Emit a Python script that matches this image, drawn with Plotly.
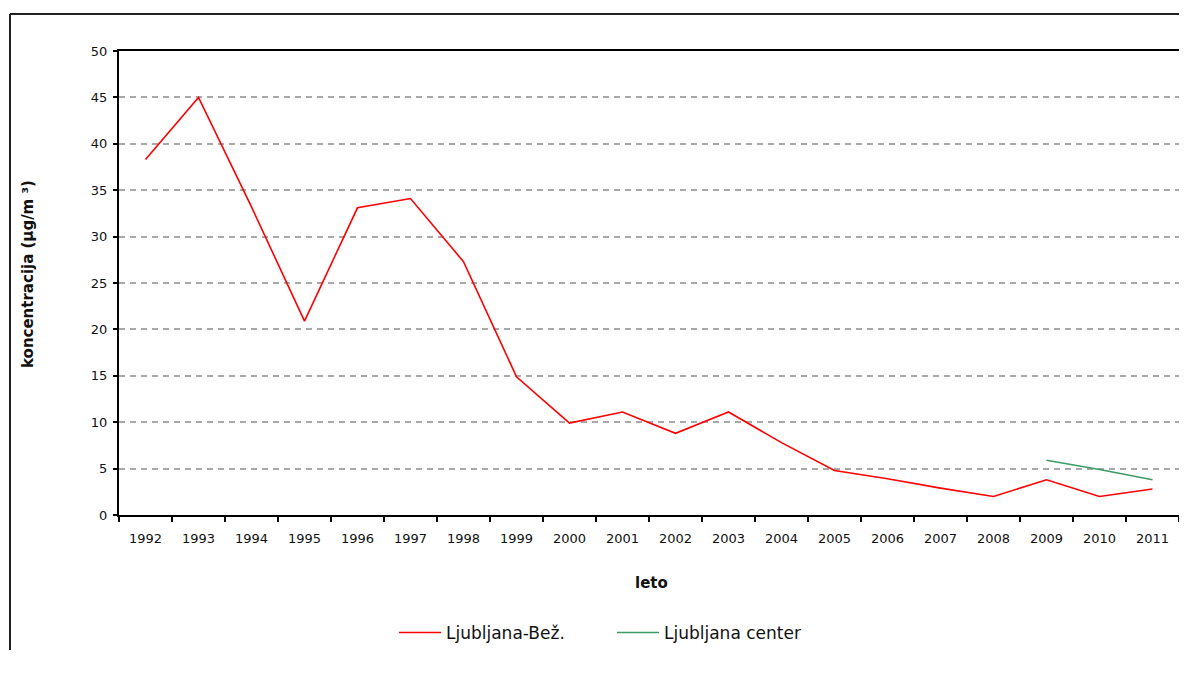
import plotly.graph_objects as go

# ---- data ----
years = [str(y) for y in range(1992, 2012)]
bez_values = [38.3, 45.0, 33.2, 20.9, 33.1, 34.1, 27.3, 14.9, 9.9, 11.1,
              8.8, 11.1, 7.8, 4.8, 3.9, 2.9, 2.0, 3.8, 2.0, 2.8]
center_years = ["2009", "2010", "2011"]
center_values = [5.9, 4.9, 3.8]
y_tick_values = list(range(0, 51, 5))
series_names = ["Ljubljana-Bež.", "Ljubljana center"]

# ---- layout geometry (page body has an 8px margin) ----
OFF = 8
W, H = 1187 - OFF, 682 - OFF
L, T = 119 - OFF, 51 - OFF
R = W - (1179 - OFF)
B = H - (515 - OFF)
pw, ph = W - L - R, H - T - B


def px(x):  # screenshot x -> paper
    return (x - OFF - L) / pw


def py(y):  # screenshot y -> paper
    return (H - B - (y - OFF)) / ph


FONT = "DejaVu Sans"

fig = go.Figure()
fig.add_trace(go.Scatter(x=years, y=bez_values, mode="lines", name=series_names[0],
                         line=dict(color="#FF0000", width=1.6)))
fig.add_trace(go.Scatter(x=center_years, y=center_values, mode="lines", name=series_names[1],
                         line=dict(color="#3C9B66", width=1.6)))

fig.update_xaxes(type="category", categoryorder="array", categoryarray=years,
                 range=[-0.5, len(years) - 0.5], showgrid=False, zeroline=False,
                 showline=True, linecolor="#000", linewidth=2, mirror=True,
                 ticks="outside", ticklen=5, tickwidth=2, tickcolor="#000",
                 tickson="boundaries", ticklabelstandoff=10,
                 tickfont=dict(family=FONT, size=13, color="#111"))
fig.update_yaxes(range=[0, 50], tickvals=y_tick_values, showgrid=True,
                 gridcolor="#A8A8A8", griddash="6px,5px", gridwidth=1.5,
                 zeroline=False, showline=True, linecolor="#000", linewidth=2,
                 mirror=True, ticks="outside", ticklen=4, tickwidth=1.5,
                 tickcolor="#000", ticklabelstandoff=3,
                 tickfont=dict(family=FONT, size=13, color="#111"))

fig.update_layout(
    width=W, height=H,
    margin=dict(l=L, r=R, t=T, b=B, autoexpand=False),
    paper_bgcolor="white", plot_bgcolor="white",
    font=dict(family=FONT, color="#111"),
    showlegend=True,
    legend=dict(orientation="h", x=px(394), xanchor="left", y=py(633), yanchor="middle",
                font=dict(family=FONT, size=17, color="#111"),
                itemwidth=42, entrywidth=161, entrywidthmode="pixels",
                bgcolor="rgba(0,0,0,0)"),
    annotations=[
        dict(text="<b>koncentracija (µg/m ³)</b>", xref="paper", yref="paper",
             x=px(28), y=py(274), xanchor="center", yanchor="middle", textangle=-90,
             showarrow=False, font=dict(family=FONT, size=15, color="#111")),
        dict(text="<b>leto</b>", xref="paper", yref="paper",
             x=px(651), y=py(583), xanchor="center", yanchor="middle",
             showarrow=False, font=dict(family=FONT, size=15, color="#111")),
    ],
    shapes=[
        dict(type="line", xref="paper", yref="paper", x0=px(10), x1=px(1187),
             y0=py(14), y1=py(14), line=dict(color="#222", width=2)),
        dict(type="line", xref="paper", yref="paper", x0=px(10), x1=px(10),
             y0=py(14), y1=py(650), line=dict(color="#222", width=2)),
    ],
)

fig.write_html("out.html")
